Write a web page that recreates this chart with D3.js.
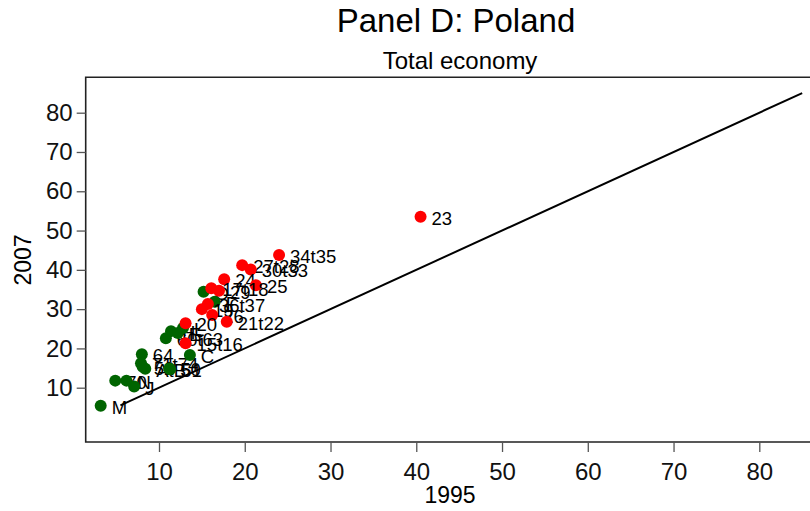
<!DOCTYPE html>
<html>
<head>
<meta charset="utf-8">
<script src="https://cdn.jsdelivr.net/npm/d3@7"></script>
<style>
  body { margin: 0; background: #fff; }
  text { font-family: "Liberation Sans", Arial, Helvetica, sans-serif; }
</style>
</head>
<body>
<svg id="chart" width="810" height="511"></svg>
<script>
// Share of workers (%), 1995 vs 2007, Poland, total economy by industry.
// Non-manufacturing industries
const otherCodes = ["M", "70", "N", "J", "64", "71t74", "AtB", "52", "51", "50", "C", "60t63", "H", "E", "L", "O", "F"];
const otherX     = [3.2,  4.9,  6.2, 7.1, 8.0,  7.9,    8.4,  8.1,  11.3, 11.2, 13.6, 10.8,   11.4, 12.2, 12.8, 15.2, 16.5];
const otherY     = [5.4,  11.8, 11.8,10.3,18.5, 16.2,   14.8, 15.3, 14.7, 14.9, 18.3, 22.6,   24.4, 23.9, 25.2, 34.4, 31.9];

// Manufacturing industries
const mfgCodes = ["23", "34t35", "27t28", "30t33", "24", "25", "17t18", "29", "36t37", "19", "26", "21t22", "20", "15t16"];
const mfgX     = [40.5, 24.0,    19.7,    20.7,    17.6, 21.3, 16.1,    17.0, 15.7,    15.0, 16.2, 17.9,    13.1, 13.1];
const mfgY     = [53.5, 43.8,    41.2,    40.1,    37.6, 36.1, 35.3,    34.7, 31.3,    30.0, 28.5, 26.8,    26.4, 21.3];

const xTicks = [10, 20, 30, 40, 50, 60, 70, 80];
const yTicks = [10, 20, 30, 40, 50, 60, 70, 80];
// 45-degree reference line (2007 = 1995)
const diagonal = [5.5, 85];

const titleText = "Panel D: Poland";
const subtitleText = "Total economy";
const xLabel = "1995";
const yLabel = "2007";

const svg = d3.select("#chart");

const plot = { left: 85.7, top: 77.3, bottom: 442, right: 830 };

const x = d3.scaleLinear().domain([10, 80]).range([159, 759.3]);
const y = d3.scaleLinear().domain([10, 80]).range([387.7, 112.7]);

// Titles
svg.append("text")
  .attr("x", 456).attr("y", 32)
  .attr("text-anchor", "middle")
  .attr("font-size", 33)
  .text(titleText);
svg.append("text")
  .attr("x", 460).attr("y", 69)
  .attr("text-anchor", "middle")
  .attr("font-size", 24)
  .text(subtitleText);

// Plot frame (open on the right, beyond the page edge)
svg.append("path")
  .attr("d", `M${plot.right},${plot.top}H${plot.left}V${plot.bottom}H${plot.right}`)
  .attr("fill", "none")
  .attr("stroke", "#222")
  .attr("stroke-width", 1.6);

// Axes
const xAxis = svg.append("g")
  .attr("transform", `translate(0,${plot.bottom})`)
  .call(d3.axisBottom(x).tickValues(xTicks).tickSize(10).tickPadding(11));
const yAxis = svg.append("g")
  .attr("transform", `translate(${plot.left},0)`)
  .call(d3.axisLeft(y).tickValues(yTicks).tickSize(9).tickPadding(4));

[xAxis, yAxis].forEach(g => {
  g.select(".domain").remove();
  g.selectAll(".tick line").attr("stroke", "#555").attr("stroke-width", 1.3);
  g.selectAll(".tick text")
    .attr("font-size", 24)
    .attr("fill", "#111")
    .style("font-family", "'Liberation Sans', Arial, sans-serif");
});

// Axis titles
svg.append("text")
  .attr("x", 450).attr("y", 503)
  .attr("text-anchor", "middle")
  .attr("font-size", 23)
  .text(xLabel);
svg.append("text")
  .attr("transform", `translate(31,260) rotate(-90)`)
  .attr("text-anchor", "middle")
  .attr("font-size", 23)
  .text(yLabel);

// Reference line
svg.append("line")
  .attr("x1", x(diagonal[0])).attr("y1", y(diagonal[0]))
  .attr("x2", x(diagonal[1])).attr("y2", y(diagonal[1]))
  .attr("stroke", "#000")
  .attr("stroke-width", 2);

// Markers with labels, each observation drawn marker-then-label
function drawSeries(codes, xs, ys, color) {
  const data = codes.map((c, i) => ({ code: c, x: xs[i], y: ys[i] }));
  const g = svg.append("g");
  data.forEach(d => {
    g.append("circle")
      .attr("cx", x(d.x)).attr("cy", y(d.y))
      .attr("r", 6)
      .attr("fill", color);
    g.append("text")
      .attr("x", x(d.x) + 11).attr("y", y(d.y) + 8)
      .attr("font-size", 18.5)
      .attr("fill", "#000")
      .text(d.code);
  });
}

drawSeries(otherCodes, otherX, otherY, "#006400");
drawSeries(mfgCodes, mfgX, mfgY, "#ff0000");
</script>
</body>
</html>
